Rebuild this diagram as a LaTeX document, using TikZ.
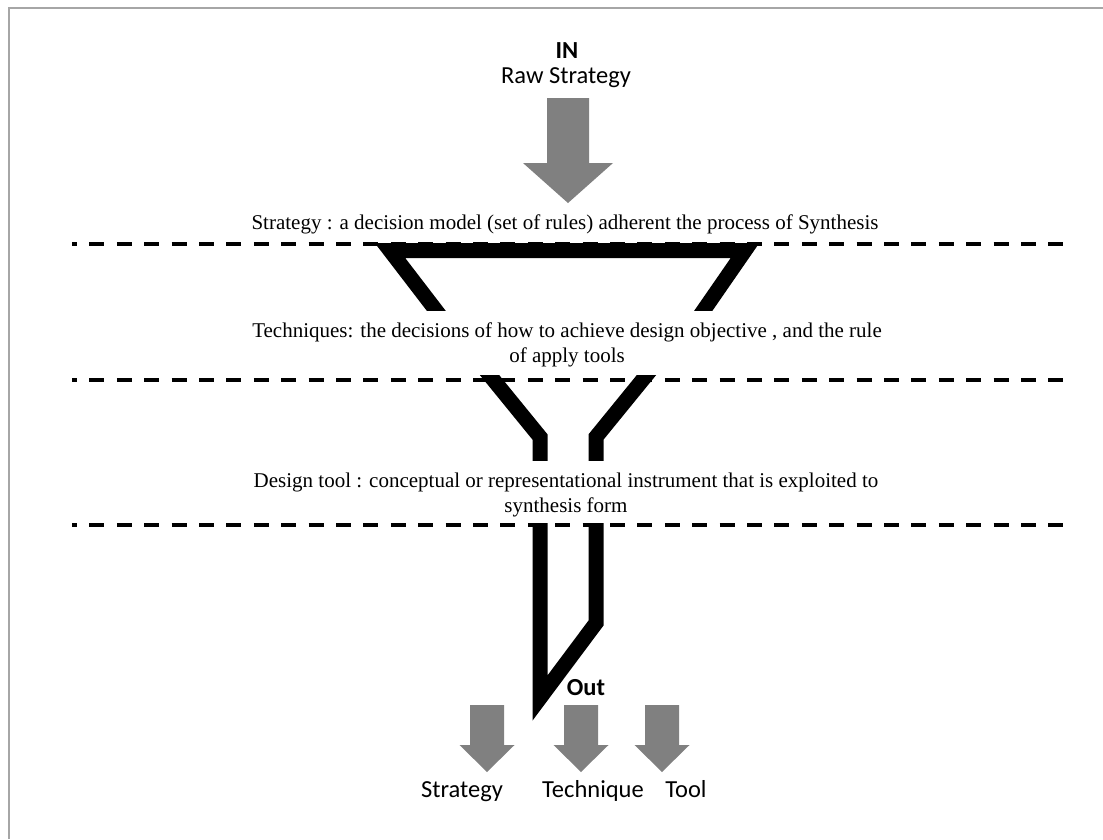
\documentclass[tikz,border=0pt]{standalone}
\usepackage{fontspec}
\setmainfont{Liberation Serif}
\newfontfamily\calfont{Carlito}
\definecolor{arrowgray}{HTML}{808080}
\definecolor{framegray}{HTML}{A6A6A6}
\begin{document}
\begin{tikzpicture}[x=1pt,y=-1pt,
  funnel/.style={line width=15pt, line join=miter, miter limit=10},
  divider/.style={line width=3.3pt, dash pattern=on 15pt off 12.4pt, dash phase=10pt},
  serif label/.style={font=\fontsize{21}{25}\selectfont, align=center, inner sep=0pt},
  sans label/.style={font=\calfont\fontsize{24.5}{28}\selectfont, inner sep=0pt},
  sans bold/.style={font=\calfont\bfseries\fontsize{24.5}{28}\selectfont, inner sep=0pt},
  pics/outarrow/.style={code={
    \fill[arrowgray] (-17,0) -- (17,0) -- (17,40) -- (27.5,40) -- (0,67)
      -- (-27.5,40) -- (-17,40) -- cycle;}},
]
\useasboundingbox (0,0) rectangle (1103,839);
% page frame
\draw[framegray, line width=2pt] (9,839) -- (9,8) -- (1103,8);

% input
\node[sans bold] (in) at (567,51) {IN};
\node[sans label] (raw) at (566,78) {Raw Strategy};
\fill[arrowgray] (547,98) -- (589,98) -- (589,163) -- (613,163) -- (568,203)
  -- (523,163) -- (547,163) -- cycle;

% level dividers
\draw[divider] (72,244) -- (1063,244);
\draw[divider] (72,380) -- (1063,380);
\draw[divider] (72,525) -- (1063,525);

% level descriptions
\node[serif label] (strategydef) at (565,224)
  {Strategy : a decision model (set of rules) adherent the process of Synthesis};
\node[serif label] (techdef) at (567,345)
  {Techniques: the decisions of how to achieve design objective , and the rule\\of apply tools};
\node[serif label] (tooldef) at (566,495)
  {Design tool : conceptual or representational instrument that is exploited to\\synthesis form};

% funnel, strategy level
\begin{scope}
  \clip (0,0) rectangle (1103,310);
  \draw[funnel] (451,330) -- (390,250.5) -- (745,250.5) -- (690,330);
\end{scope}
% funnel, technique level
\begin{scope}
  \clip (0,375) rectangle (1103,460);
  \draw[funnel] (474,356) -- (540,437) -- (540,470);
  \draw[funnel] (662,356) -- (596,437) -- (596,470);
\end{scope}
% funnel, tool level
\draw[funnel] (540,523) -- (540,698) -- (596,623) -- (596,523);

% outputs
\node[sans bold] (out) at (586,688) {Out};
\pic at (487,705) {outarrow};
\pic at (581,705) {outarrow};
\pic at (662,705) {outarrow};
\node[sans label, anchor=base] (outstrategy) at (462,797) {Strategy};
\node[sans label, anchor=base] (outtechnique) at (593,797) {Technique};
\node[sans label, anchor=base] (outtool) at (686,797) {Tool};
\end{tikzpicture}
\end{document}
